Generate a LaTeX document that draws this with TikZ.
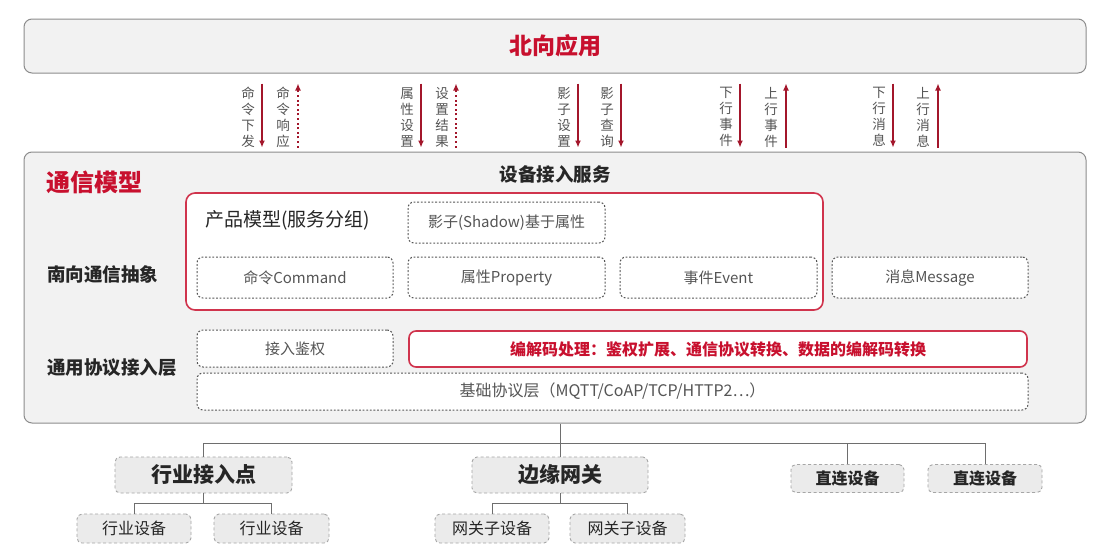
\documentclass[tikz,border=0pt]{standalone}
\usepackage{fontspec}
\setmainfont{Noto Sans CJK SC}
\usetikzlibrary{arrows.meta,calc}
\definecolor{hwred}{HTML}{C8102E}
\definecolor{arrred}{HTML}{A3162B}
\definecolor{panel}{HTML}{F2F2F2}
\definecolor{panelline}{HTML}{8C8C8C}
\definecolor{txtgray}{HTML}{555555}
\definecolor{txtdark}{HTML}{262626}
\definecolor{botfill}{HTML}{EBEBEB}
\definecolor{treegray}{HTML}{6E6E6E}
\begin{document}
\begin{tikzpicture}[x=1pt,y=-1pt,
  panelbox/.style={draw=panelline, fill=panel, line width=1pt, rounded corners=8pt, inner sep=0pt},
  redbox/.style={draw=hwred!85, fill=white, line width=1.6pt, rounded corners=9pt, inner sep=0pt},
  dotbox/.style={draw=txtgray, fill=white, line width=1pt, dash pattern=on 1.8pt off 1.8pt, rounded corners=6pt, inner sep=0pt, text=txtgray, font=\fontsize{15}{18}\selectfont},
  botbox/.style={draw=gray!70, fill=botfill, line width=0.9pt, dash pattern=on 3pt off 2.5pt, rounded corners=5pt, inner sep=0pt, text=txtdark},
  flow/.style={draw=arrred, line width=1.3pt, -{Latex[length=7pt,width=6pt]}},
  flowdot/.style={flow, dash pattern=on 2pt off 2.6pt},
  vlabel/.style={text=txtgray, align=center, font=\fontsize{13.5}{16}\selectfont, inner sep=0pt},
  layerlabel/.style={text=txtdark, anchor=west, inner sep=0pt, font=\fontsize{18.5}{20}\selectfont\bfseries},
  treeline/.style={draw=treegray, line width=1pt}
]
\path[fill=white] (0,0) rectangle (1108,554);
\useasboundingbox (0,0) rectangle (1108,554);

% north application
\node[panelbox, minimum width=1062pt, minimum height=54pt, text=hwred, font=\fontsize{23}{25}\selectfont\bfseries] (north) at (555,46) {北向应用};

% main panel
\node[panelbox, minimum width=1062pt, minimum height=271pt] (main) at (555,287.5) {};
\node[text=hwred, anchor=west, inner sep=0pt, font=\fontsize{24}{26}\selectfont\bfseries] (model) at (46,182) {通信模型};
\node[text=txtdark, inner sep=0pt, font=\fontsize{18.5}{20}\selectfont\bfseries] (svc) at (555,174) {设备接入服务};
\node[layerlabel] (south) at (47,274) {南向通信抽象};
\node[layerlabel] (proto) at (47,368) {通用协议接入层};

% product model group
\node[redbox, minimum width=637pt, minimum height=117pt] (pm) at (504.5,251.5) {};
\node[text=txtdark, anchor=west, inner sep=0pt, font=\fontsize{19}{21}\selectfont] (pmt) at (205,220) {产品模型(服务分组)};
\node[dotbox, minimum width=197pt, minimum height=41pt] (shadow) at (506.5,222.5) {影子(Shadow)基于属性};
\node[dotbox, minimum width=196pt, minimum height=41pt] (cmd) at (295,277.5) {命令Command};
\node[dotbox, minimum width=197pt, minimum height=41pt] (prop) at (506.5,277.5) {属性Property};
\node[dotbox, minimum width=197pt, minimum height=41pt] (evt) at (718.5,277.5) {事件Event};
\node[dotbox, minimum width=196pt, minimum height=41pt] (msg) at (930,277.5) {消息Message};

% protocol layer
\node[dotbox, minimum width=196pt, minimum height=37pt] (auth) at (295,348.5) {接入鉴权};
\node[redbox, rounded corners=7pt, minimum width=618pt, minimum height=36pt, text=hwred, font=\fontsize{16}{18}\selectfont\bfseries] (codec) at (718,349) {编解码处理：鉴权扩展、通信协议转换、数据的编解码转换};
\node[dotbox, minimum width=831pt, minimum height=37pt, font=\fontsize{16}{18}\selectfont] (base) at (612.5,391.5) {基础协议层（MQTT/CoAP/TCP/HTTP2…）};

% arrows between north and main
\foreach \n/\xx in {1/262,2/298,3/421,4/456,5/578,6/621,7/740,8/786,9/893,10/938}{
  \coordinate (c\n) at (\xx,0);
}
\draw[flow] ($(north.south -| c1)+(0,10)$) -- ($(main.north -| c1)+(0,-4)$);
\draw[flowdot] ($(main.north -| c2)+(0,-4)$) -- ($(north.south -| c2)+(0,10)$);
\draw[flow] ($(north.south -| c3)+(0,10)$) -- ($(main.north -| c3)+(0,-4)$);
\draw[flowdot] ($(main.north -| c4)+(0,-4)$) -- ($(north.south -| c4)+(0,10)$);
\draw[flow] ($(north.south -| c5)+(0,10)$) -- ($(main.north -| c5)+(0,-4)$);
\draw[flow] ($(north.south -| c6)+(0,10)$) -- ($(main.north -| c6)+(0,-4)$);
\draw[flow] ($(north.south -| c7)+(0,10)$) -- ($(main.north -| c7)+(0,-4)$);
\draw[flow] ($(main.north -| c8)+(0,-4)$) -- ($(north.south -| c8)+(0,10)$);
\draw[flow] ($(north.south -| c9)+(0,10)$) -- ($(main.north -| c9)+(0,-4)$);
\draw[flow] ($(main.north -| c10)+(0,-4)$) -- ($(north.south -| c10)+(0,10)$);

\node[vlabel] (l1) at (248,117) {命\\令\\下\\发};
\node[vlabel] (l2) at (283,117) {命\\令\\响\\应};
\node[vlabel] (l3) at (407,117) {属\\性\\设\\置};
\node[vlabel] (l4) at (442,117) {设\\置\\结\\果};
\node[vlabel] (l5) at (564,117) {影\\子\\设\\置};
\node[vlabel] (l6) at (607,117) {影\\子\\查\\询};
\node[vlabel] (l7) at (726,117) {下\\行\\事\\件};
\node[vlabel] (l8) at (771,117) {上\\行\\事\\件};
\node[vlabel] (l9) at (879,117) {下\\行\\消\\息};
\node[vlabel] (l10) at (923,117) {上\\行\\消\\息};

% bottom tree
\node[botbox, minimum width=177pt, minimum height=36pt, font=\fontsize{21}{23}\selectfont\bfseries] (hy) at (203.5,475) {行业接入点};
\node[botbox, minimum width=176pt, minimum height=36pt, font=\fontsize{21}{23}\selectfont\bfseries] (gw) at (560,475) {边缘网关};
\node[botbox, minimum width=113pt, minimum height=28pt, font=\fontsize{16}{18}\selectfont\bfseries] (zl1) at (847.5,478.5) {直连设备};
\node[botbox, minimum width=114pt, minimum height=28pt, font=\fontsize{16}{18}\selectfont\bfseries] (zl2) at (985,478.5) {直连设备};
\node[botbox, minimum width=114pt, minimum height=29pt, font=\fontsize{16}{18}\selectfont] (hyd1) at (134,528.5) {行业设备};
\node[botbox, minimum width=115pt, minimum height=29pt, font=\fontsize{16}{18}\selectfont] (hyd2) at (271.5,528.5) {行业设备};
\node[botbox, minimum width=114pt, minimum height=29pt, font=\fontsize{16}{18}\selectfont] (gwd1) at (492,528.5) {网关子设备};
\node[botbox, minimum width=115pt, minimum height=29pt, font=\fontsize{16}{18}\selectfont] (gwd2) at (627.5,528.5) {网关子设备};

\coordinate (bus) at (0,443);
\coordinate (sub) at (0,503);
\draw[treeline] (main.south -| gw.north) -- (gw.north);
\draw[treeline] (hy.north) -- (hy.north |- bus) -- (zl2.north |- bus) -- (zl2.north);
\draw[treeline] (zl1.north |- bus) -- (zl1.north);
\draw[treeline] (hy.south) -- (hy.south |- sub);
\draw[treeline] (hyd1.north) -- (hyd1.north |- sub) -- (hyd2.north |- sub) -- (hyd2.north);
\draw[treeline] (gw.south) -- (gw.south |- sub);
\draw[treeline] (gwd1.north) -- (gwd1.north |- sub) -- (gwd2.north |- sub) -- (gwd2.north);
\end{tikzpicture}
\end{document}
